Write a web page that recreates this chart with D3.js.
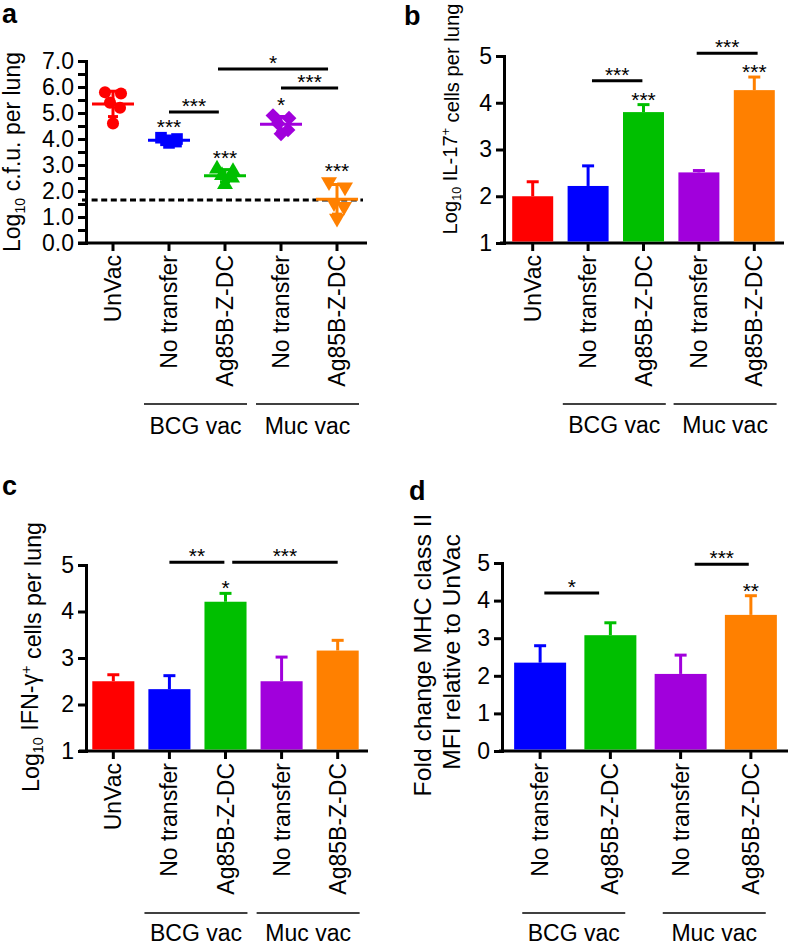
<!DOCTYPE html>
<html><head><meta charset="utf-8">
<script src="https://cdn.jsdelivr.net/npm/d3@7"></script>
<style>
body{margin:0;background:#fff;}
svg{display:block;font-family:"Liberation Sans",Arial,Helvetica,sans-serif;}
</style></head><body>
<svg id="chart" width="788" height="946"></svg>
<script>
// ---------------- DATA ----------------
const categories5 = ["UnVac", "No transfer", "Ag85B-Z-DC", "No transfer", "Ag85B-Z-DC"];
const categories4 = ["No transfer", "Ag85B-Z-DC", "No transfer", "Ag85B-Z-DC"];
const groupNames = ["BCG vac", "Muc vac"];
const colors5 = ["#ff0000", "#0000ff", "#00bf00", "#a100dc", "#ff8000"];
const colors4 = ["#0000ff", "#00bf00", "#a100dc", "#ff8000"];

// Panel a: log10 cfu per lung (individual mice)
const cfuUnVac = [5.8, 5.75, 5.4, 5.2, 4.6];
const cfuBcgNoTransfer = [4.05, 4.0, 3.95, 3.9, 3.85];
const cfuBcgDC = [2.85, 2.75, 2.6, 2.5, 2.25];
const cfuMucNoTransfer = [4.9, 4.8, 4.6, 4.35, 4.2];
const cfuMucDC = [2.35, 2.15, 1.55, 1.4, 0.95];
const detectionLimit = 1.65;
const cfuTicks = [0, 1, 2, 3, 4, 5, 6, 7];
const cfuMinorTicks = [0, 0.5, 1, 1.5, 2, 2.5, 3, 3.5, 4, 4.5, 5, 5.5, 6, 6.5, 7];
const cfuStars = ["", "***", "***", "*", "***"];
const cfuBrackets = [[1, 1.89, 5.04, "***"], [1.875, 3.84, 6.69, "*"], [3, 4.02, 5.96, "***"]];

// Panel b: log10 IL-17+ cells per lung
const il17Mean = [2.0, 2.22, 3.8, 2.51, 4.27];
const il17Err = [0.31, 0.43, 0.16, 0.04, 0.28];
const il17Stars = ["", "", "***", "", "***"];
const il17Brackets = [[1.07, 1.98, 4.47, "***"], [2.96, 4.06, 5.06, "***"]];
const logTicks = [1, 2, 3, 4, 5];

// Panel c: log10 IFN-g+ cells per lung
const ifngMean = [2.5, 2.33, 4.21, 2.5, 3.16];
const ifngErr = [0.14, 0.29, 0.18, 0.52, 0.22];
const ifngStars = ["", "", "*", "", ""];
const ifngBrackets = [[1.0, 1.98, 5.06, "**"], [2.12, 4.0, 5.06, "***"]];

// Panel d: fold change MHC class II MFI
const mhcMean = [2.35, 3.08, 2.05, 3.62];
const mhcErr = [0.45, 0.33, 0.5, 0.51];
const mhcStars = ["", "", "", "**"];
const mhcBrackets = [[0.06, 0.84, 4.2, "*"], [2.2, 2.97, 4.97, "***"]];
const mhcTicks = [0, 1, 2, 3, 4, 5];

// ---------------- DRAWING ----------------
const svg = d3.select("#chart");
const FS = 23;
const FAM = "Liberation Sans, Arial, Helvetica, sans-serif";

function fractionalX(x, f) {
  const cats = x.domain();
  const i = Math.min(Math.floor(f), cats.length - 1);
  return x(cats[i]) + x.bandwidth() / 2 + (f - i) * x.step();
}

// rotated label fitted to a given length and centred at (cx, cy)
function rotatedLabel(g, cx, cy, fs, targetLen, build) {
  const holder = g.append("g").attr("transform", `translate(${cx},${cy}) rotate(-90)`);
  const t = holder.append("text").attr("font-size", fs).attr("text-anchor", "start").attr("x", 0).attr("y", 0);
  build(t);
  const L = t.node().getComputedTextLength();
  if (targetLen && L > 0) t.attr("font-size", fs * targetLen / L);
  const bb = t.node().getBBox();
  t.attr("x", -(bb.x + bb.width / 2));
  return t;
}

function drawAxes(g, x, y, P) {
  const ya = d3.axisLeft(y).tickValues(P.yTickValues).tickSize(8).tickSizeOuter(0)
    .tickPadding(4).tickFormat(d => P.yLabelTicks.includes(d) ? P.fmt(d) : "");
  const yg = g.append("g").attr("transform", `translate(${P.axisX},0)`).call(ya);
  yg.select(".domain").attr("stroke-width", 3).attr("stroke-linecap", "square");
  yg.selectAll(".tick line").attr("stroke-width", 3);
  yg.selectAll("text").attr("font-size", FS).attr("font-family", FAM).attr("fill", "#000");
  const y0 = y.range()[0];
  const xa = d3.axisBottom(x).tickSize(8).tickSizeOuter(0).tickPadding(0).tickFormat((d, i) => P.cats[i]);
  const xg = g.append("g").attr("transform", `translate(0,${y0})`).call(xa);
  xg.select(".domain").remove();
  xg.selectAll(".tick line").attr("stroke-width", 3);
  xg.selectAll("text").attr("font-size", FS).attr("font-family", FAM).attr("fill", "#000")
    .attr("transform", "rotate(-90)").attr("text-anchor", "end")
    .attr("x", -12).attr("y", 0).attr("dy", "0.35em");
  g.append("line").attr("x1", P.xLine[0]).attr("x2", P.xLine[1]).attr("y1", y0).attr("y2", y0)
    .attr("stroke", "#000").attr("stroke-width", 3);
  P.groups.forEach((grp, k) => {
    const cx = (x(x.domain()[grp[0]]) + x(x.domain()[grp[1]]) + x.bandwidth()) / 2 - 1.5;
    g.append("line").attr("x1", cx - 51.5).attr("x2", cx + 51.5)
      .attr("y1", y0 + P.groupDy).attr("y2", y0 + P.groupDy).attr("stroke", "#000").attr("stroke-width", 1.6);
    g.append("text").attr("x", cx).attr("y", y0 + P.groupDy + P.groupTextDy).attr("text-anchor", "middle")
      .attr("font-size", FS).text(groupNames[k]);
  });
  g.append("text").attr("x", P.letterPos[0]).attr("y", P.letterPos[1]).attr("font-size", 27)
    .attr("font-weight", "bold").text(P.letter);
}

function drawBrackets(g, x, y, brackets) {
  brackets.forEach(([f, t, v, lab]) => {
    const x1 = fractionalX(x, f), x2 = fractionalX(x, t), yy = y(v);
    g.append("line").attr("x1", x1).attr("x2", x2).attr("y1", yy).attr("y2", yy)
      .attr("stroke", "#000").attr("stroke-width", 3);
    g.append("text").attr("x", (x1 + x2) / 2).attr("y", yy + 1).attr("text-anchor", "middle")
      .attr("font-size", 21).text(lab);
  });
}

function logLabel(sel, rest, supText, tail) {
  sel.append("tspan").text("Log");
  sel.append("tspan").attr("font-size", "0.62em").attr("dy", "0.32em").text("10");
  sel.append("tspan").attr("dy", "-0.2em").text(" " + rest);
  if (supText) sel.append("tspan").attr("font-size", "0.62em").attr("dy", "-0.55em").text(supText);
  if (tail) sel.append("tspan").attr("dy", supText ? "0.43em" : "0").text(tail);
}

function drawBars(g, x, y, means, errs, colors, stars) {
  const base = y.domain()[0];
  means.forEach((mv, i) => {
    const key = x.domain()[i];
    const bx = x(key), bw = x.bandwidth(), cx = bx + bw / 2;
    const top = y(mv), et = y(mv + errs[i]);
    g.append("line").attr("x1", cx).attr("x2", cx).attr("y1", top).attr("y2", et)
      .attr("stroke", colors[i]).attr("stroke-width", 3);
    g.append("line").attr("x1", cx - 6).attr("x2", cx + 6).attr("y1", et).attr("y2", et)
      .attr("stroke", colors[i]).attr("stroke-width", 3);
    g.append("rect").attr("x", bx).attr("width", bw).attr("y", top).attr("height", y(base) - top - 1.5)
      .attr("fill", colors[i]);
    if (stars[i]) g.append("text").attr("x", cx).attr("y", et + 2).attr("text-anchor", "middle")
      .attr("font-size", 21).text(stars[i]);
  });
}

const keys5 = categories5.map((c, i) => i + ":" + c);
const keys4 = categories4.map((c, i) => i + ":" + c);

// ----- Panel a -----
{
  const g = svg.append("g");
  const x = d3.scaleBand().domain(keys5).range([85, 365]).paddingInner(0.26).paddingOuter(0.13);
  const y = d3.scaleLinear().domain([0, 7]).range([243, 61]);
  drawAxes(g, x, y, {
    axisX: 86, yTickValues: cfuMinorTicks, yLabelTicks: cfuTicks, fmt: d3.format(".1f"), cats: categories5,
    xLine: [78, 367], groups: [[1, 2], [3, 4]], groupDy: 161, groupTextDy: 30,
    letterPos: [2, 23], letter: "a"
  });
  rotatedLabel(g, 20, 152, 23, 200, s => logLabel(s, "c.f.u. per lung", null, ""));
  g.append("line").attr("x1", 82).attr("x2", 363).attr("y1", y(detectionLimit)).attr("y2", y(detectionLimit))
    .attr("stroke", "#000").attr("stroke-width", 3).attr("stroke-dasharray", "6,3.6");
  const series = [cfuUnVac, cfuBcgNoTransfer, cfuBcgDC, cfuMucNoTransfer, cfuMucDC];
  const symbols = [d3.symbolCircle, d3.symbolSquare, d3.symbolTriangle, d3.symbolSquare, d3.symbolTriangle];
  const rot = [0, 0, 0, 45, 180];
  const sizes = [115, 135, 110, 110, 110];
  const jitter = [-8, 8, -3, 7, 0];
  series.forEach((vals, i) => {
    const cx = x(keys5[i]) + x.bandwidth() / 2;
    vals.forEach((v, j) => {
      g.append("path").attr("d", d3.symbol(symbols[i], sizes[i])())
        .attr("transform", `translate(${cx + jitter[j]},${y(v)}) rotate(${rot[i]})`)
        .attr("fill", colors5[i]);
    });
    const m = d3.mean(vals), sd = d3.deviation(vals);
    const lines = [[cx - 21, cx + 21, y(m), y(m)], [cx, cx, y(m - sd), y(m + sd)],
      [cx - 5, cx + 5, y(m - sd), y(m - sd)], [cx - 5, cx + 5, y(m + sd), y(m + sd)]];
    lines.forEach(l => g.append("line").attr("x1", l[0]).attr("x2", l[1]).attr("y1", l[2]).attr("y2", l[3])
      .attr("stroke", colors5[i]).attr("stroke-width", 3));
    if (cfuStars[i]) g.append("text").attr("x", cx).attr("y", y(d3.max(vals)) - 4).attr("text-anchor", "middle")
      .attr("font-size", 21).text(cfuStars[i]);
  });
  drawBrackets(g, x, y, cfuBrackets);
}

// ----- Panel b -----
{
  const g = svg.append("g");
  const x = d3.scaleBand().domain(keys5).range([505, 782]).paddingInner(0.26).paddingOuter(0.13);
  const y = d3.scaleLinear().domain([1, 5]).range([243, 56]);
  drawAxes(g, x, y, {
    axisX: 504, yTickValues: logTicks, yLabelTicks: logTicks, fmt: d3.format("d"), cats: categories5,
    xLine: [500, 784], groups: [[1, 2], [3, 4]], groupDy: 161, groupTextDy: 29,
    letterPos: [404, 25], letter: "b"
  });
  rotatedLabel(g, 457, 119, 20.5, 231, s => logLabel(s, "IL-17", "+", " cells per lung"));
  drawBars(g, x, y, il17Mean, il17Err, colors5, il17Stars);
  drawBrackets(g, x, y, il17Brackets);
}

// ----- Panel c -----
{
  const g = svg.append("g");
  const x = d3.scaleBand().domain(keys5).range([85, 366]).paddingInner(0.25).paddingOuter(0.13);
  const y = d3.scaleLinear().domain([1, 5]).range([751, 565]);
  drawAxes(g, x, y, {
    axisX: 86, yTickValues: logTicks, yLabelTicks: logTicks, fmt: d3.format("d"), cats: categories5,
    xLine: [79, 368], groups: [[1, 2], [3, 4]], groupDy: 162, groupTextDy: 28,
    letterPos: [2, 495], letter: "c"
  });
  rotatedLabel(g, 38.5, 657, 23, 270, s => logLabel(s, "IFN-γ", "+", " cells per lung"));
  drawBars(g, x, y, ifngMean, ifngErr, colors5, ifngStars);
  drawBrackets(g, x, y, ifngBrackets);
}

// ----- Panel d -----
{
  const g = svg.append("g");
  const x = d3.scaleBand().domain(keys4).range([505, 786]).paddingInner(0.26).paddingOuter(0.13);
  const y = d3.scaleLinear().domain([0, 5]).range([751, 563]);
  drawAxes(g, x, y, {
    axisX: 502, yTickValues: mhcTicks, yLabelTicks: mhcTicks, fmt: d3.format("d"), cats: categories4,
    xLine: [499, 788], groups: [[0, 1], [2, 3]], groupDy: 162, groupTextDy: 28,
    letterPos: [409, 500], letter: "d"
  });
  const t1 = rotatedLabel(g, 431, 655, 23, 283, s => s.text("Fold change MHC class II"));
  const fs1 = +t1.attr("font-size");
  rotatedLabel(g, 460, 652, fs1, null, s => s.text("MFI relative to UnVac"));
  drawBars(g, x, y, mhcMean, mhcErr, colors4, mhcStars);
  drawBrackets(g, x, y, mhcBrackets);
}
</script></body></html>
